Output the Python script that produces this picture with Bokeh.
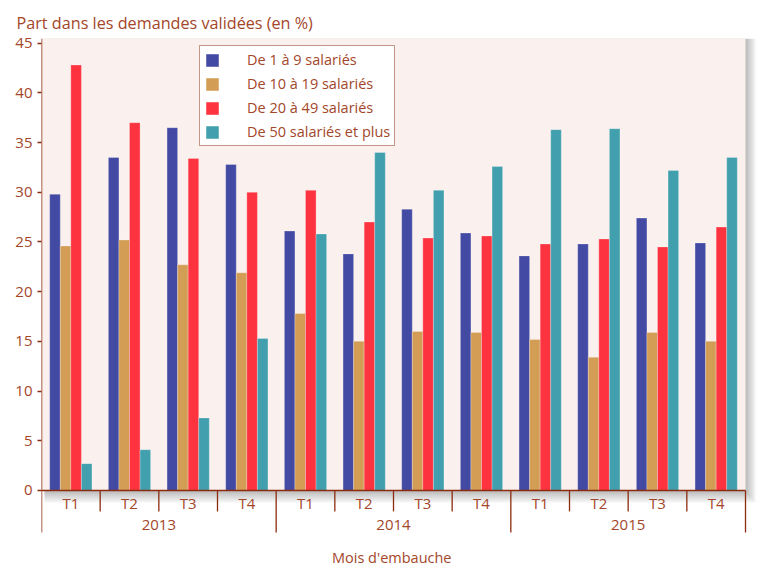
import numpy as np
from bokeh.plotting import figure
from bokeh.models import Range1d, FixedTicker, Legend, LegendItem, ColumnDataSource
from bokeh.embed import file_html
from bokeh.resources import INLINE
from bokeh.core.properties import value

# ---- data ----
years = ["2013", "2014", "2015"]
quarters = ["T1", "T2", "T3", "T4"]
series_names = ["De 1 à 9 salariés", "De 10 à 19 salariés",
                "De 20 à 49 salariés", "De 50 salariés et plus"]
s_1_9 = [29.8, 33.5, 36.5, 32.8, 26.1, 23.8, 28.3, 25.9, 23.6, 24.8, 27.4, 24.9]
s_10_19 = [24.6, 25.2, 22.7, 21.9, 17.8, 15.0, 16.0, 15.9, 15.2, 13.4, 15.9, 15.0]
s_20_49 = [42.8, 37.0, 33.4, 30.0, 30.2, 27.0, 25.4, 25.6, 24.8, 25.3, 24.5, 26.5]
s_50 = [2.7, 4.1, 7.3, 15.3, 25.8, 34.0, 30.2, 32.6, 36.3, 36.4, 32.2, 33.5]
y_ticks = [0, 5, 10, 15, 20, 25, 30, 35, 40, 45]
x_title = "Mois d'embauche"
y_title = "Part dans les demandes validées (en %)"

colors = ["#434AA3", "#D39D55", "#FE3340", "#429FAD"]
TXT = "#A3462A"
LINE = "#8C2C0E"
BG = "#FAF1EE"
FONT = "Open Sans"

n = len(years) * len(quarters)
idx = np.arange(n)
centers = idx + 0.5

W, H = 771, 567
LEFT, RIGHT, TOP, BOTTOM = 41, 5, 38, 0
fw = W - LEFT - RIGHT
fh = H - TOP - BOTTOM
group_px = (745 - 41) / 12.0
x_end = fw / group_px
y1 = 45.47
px_per_unit = 9.94
y0 = y1 - fh / px_per_unit
sep_bottom = -4.23

p = figure(width=W, height=H, output_backend="svg", toolbar_location=None,
           x_range=Range1d(0, x_end), y_range=Range1d(y0, y1),
           min_border_left=LEFT, min_border_right=RIGHT,
           min_border_top=TOP, min_border_bottom=BOTTOM,
           x_axis_location=None, background_fill_color="white",
           border_fill_color="white", outline_line_color=None)
p.xgrid.visible = False
p.ygrid.visible = False

# title
p.title.text = y_title
p.title.text_font = FONT
p.title.text_font_size = "16.2px"
p.title.text_font_style = "normal"
p.title.text_color = TXT
p.title.align = "left"
p.title.offset = -25
p.title.standoff = 10

# shadow of plot box
for k in range(1, 8):
    d = k * 0.025
    p.quad(left=[0.05], right=[12 + d], bottom=[-d * 7], top=[y1],
           fill_color="black", fill_alpha=0.04, line_color=None)

# plot area background
p.quad(left=[0], right=[12], bottom=[0], top=[y1], fill_color=BG, line_color=None)

# bars
offsets = [-0.27, -0.09, 0.09, 0.27]
series = [s_1_9, s_10_19, s_20_49, s_50]
renderers = []
for s, off, c in zip(series, offsets, colors):
    src = ColumnDataSource(dict(x=centers + off, top=s))
    r = p.vbar(x="x", top="top", width=0.18, source=src, fill_color=c,
               line_color="white", line_alpha=0.25, line_width=1)
    renderers.append(r)

# axis lines and separators
p.segment(x0=[0], y0=[0], x1=[12], y1=[0], line_color=LINE, line_width=1.5)
p.segment(x0=[0], y0=[y1], x1=[0], y1=[sep_bottom], line_color=LINE, line_width=1.5)
q_sep = [i for i in range(1, n) if i % 4 != 0]
y_sep = [4, 8, 12]
p.segment(x0=q_sep, y0=[0] * len(q_sep), x1=q_sep, y1=[-2.11] * len(q_sep),
          line_color=LINE, line_width=1.3)
p.segment(x0=y_sep, y0=[0] * 3, x1=y_sep, y1=[sep_bottom] * 3,
          line_color=LINE, line_width=1.3)

# category labels
q_labels = quarters * len(years)
p.text(x=list(centers), y=[-1.28] * n, text=q_labels, text_align="center",
       text_baseline="middle", text_font=value(FONT), text_font_size="15px",
       text_color=TXT)
p.text(x=[2, 6, 10], y=[-3.5] * 3, text=years, text_align="center",
       text_baseline="middle", text_font=value(FONT), text_font_size="15px",
       text_color=TXT)
# x title
p.text(x=[5.97], y=[-6.75], text=[x_title], text_align="center",
       text_baseline="middle", text_font=value(FONT), text_font_size="14.5px",
       text_color=TXT)

# y axis
ax = p.yaxis[0]
ax.ticker = FixedTicker(ticks=y_ticks)
ax.axis_line_color = None
ax.major_tick_line_color = LINE
ax.major_tick_line_width = 1.3
ax.major_tick_in = 0
ax.major_tick_out = 4
ax.minor_tick_line_color = None
ax.major_label_text_font = FONT
ax.major_label_text_font_size = "15px"
ax.major_label_text_color = TXT
ax.major_label_standoff = 5

# legend
items = [LegendItem(label=nm, renderers=[r]) for nm, r in zip(series_names, renderers)]
legend = Legend(items=items, location=(158, fh - (146 - TOP)), orientation="vertical",
                background_fill_color="white", background_fill_alpha=1,
                border_line_color=LINE, border_line_width=1.5,
                label_text_font=FONT, label_text_font_size="14.5px",
                label_text_color=TXT, glyph_width=16, glyph_height=16,
                label_height=16, spacing=5, padding=4, label_standoff=27,
                margin=0)
p.add_layout(legend, "center")

open("out.html", "w").write(file_html(p, INLINE))
